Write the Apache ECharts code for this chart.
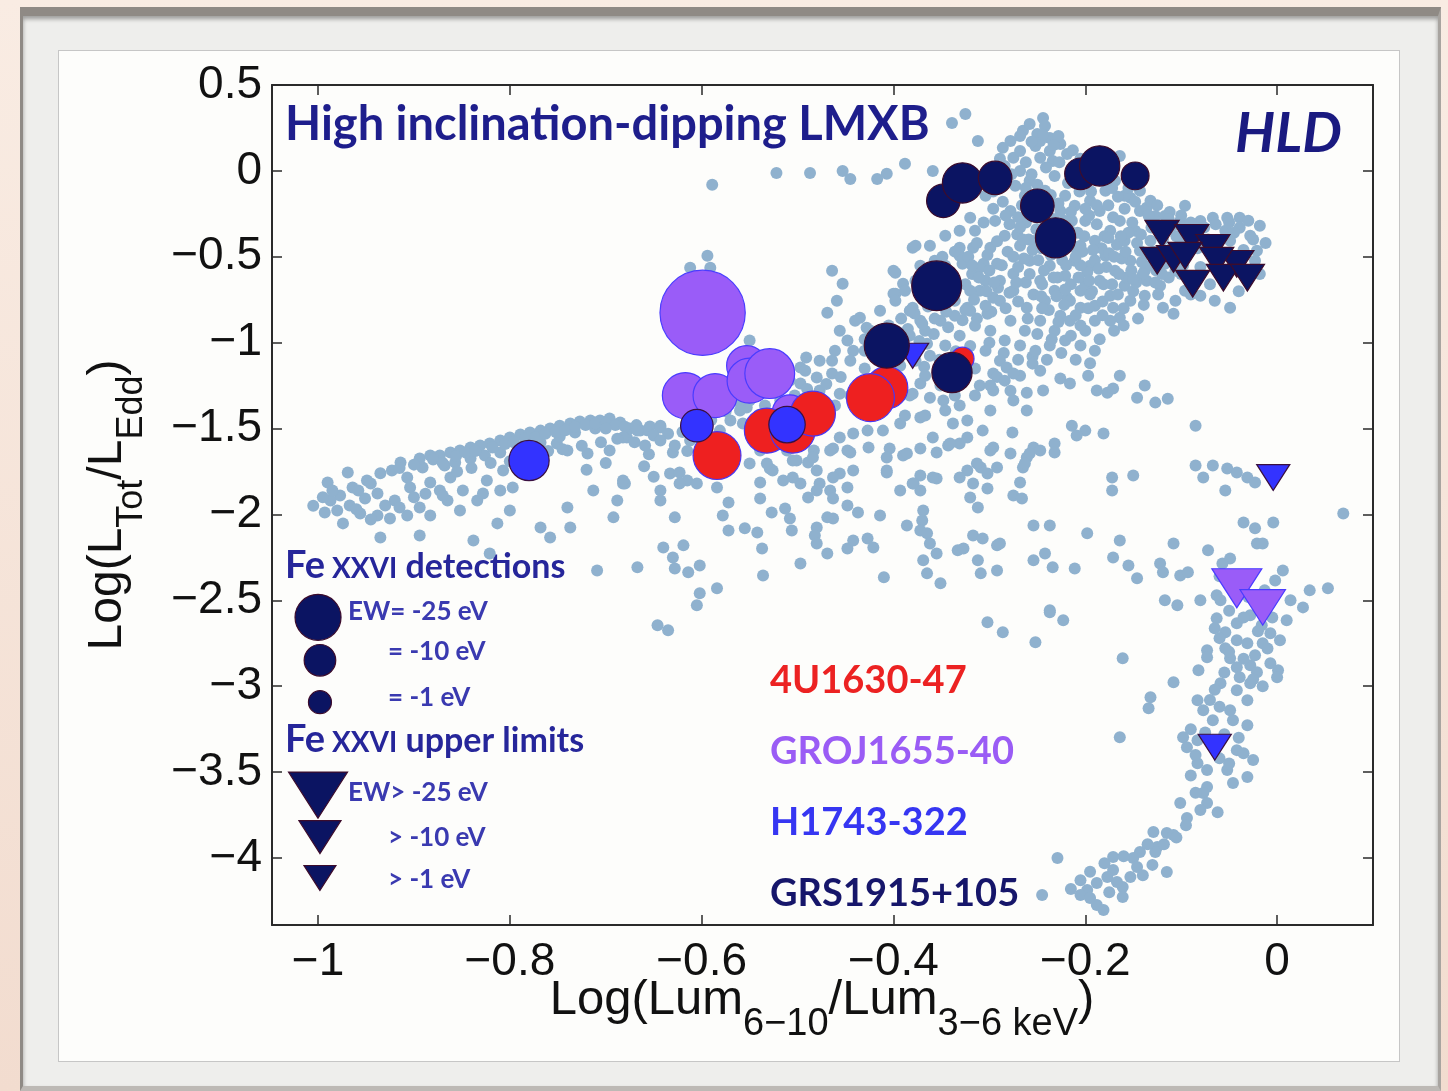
<!DOCTYPE html>
<html><head><meta charset="utf-8">
<script src="https://cdn.jsdelivr.net/npm/echarts@6/dist/echarts.min.js"></script>
<style>
html,body{margin:0;padding:0;width:1448px;height:1091px;overflow:hidden;background:linear-gradient(180deg,#f9ece3,#f2dccf);}
#frame{position:absolute;left:20px;top:7px;width:1421px;height:1084px;box-sizing:border-box;background:#eeeeec;border-top:9px solid #8f8a85;border-left:3px solid #8f8a85;border-right:3px solid #a8a4a0;border-bottom:5px solid #bdb9b5;box-shadow:inset 0 3px 4px rgba(0,0,0,0.35);}
#panel{position:absolute;left:58px;top:50px;width:1342px;height:1012px;box-sizing:border-box;background:#fdfdfb;border:1px solid #c6c6c6;}
#chart{position:absolute;left:0;top:0;width:1448px;height:1091px;}
</style></head><body>
<div id="frame"></div><div id="panel"></div><div id="chart"></div>
<script>
// ---------------- DATA ----------------
const xTicks = [-1, -0.8, -0.6, -0.4, -0.2, 0];
const yTicks = [0.5, 0, -0.5, -1, -1.5, -2, -2.5, -3, -3.5, -4];

// RXTE monitoring points (light blue background cloud) [x, y]
const cloudLeft = [[-0.990,-1.814],[-0.969,-1.756],[-0.964,-1.843],[-0.949,-1.802],[-0.938,-1.878],[-0.980,-1.977],[-0.974,-2.052],[-0.956,-1.994],[-0.938,-2.006],[-0.925,-2.023],[-0.907,-2.006],[-0.894,-1.959],[-0.883,-2.006],[-0.935,-2.134],[-0.894,-2.122],[-0.907,-1.785],[-0.891,-1.727],[-0.904,-1.843],[-0.862,-1.785],[-0.849,-1.860],[-0.865,-1.919],[-0.852,-1.977],[-0.834,-1.919],[-0.824,-1.802],[-0.828,-1.878],[-0.807,-1.744],[-0.797,-1.843],[-0.800,-1.977],[-0.813,-2.052],[-0.838,-2.151],[-0.821,-2.227],[-0.768,-2.076],[-0.758,-2.134],[-0.740,-1.959],[-0.737,-2.076],[-0.713,-1.860],[-0.688,-1.919],[-0.692,-2.017],[-0.682,-1.820],[-0.643,-1.860],[-0.643,-1.919],[-0.640,-2.192],[-0.667,-2.308],[-0.709,-2.326],[-0.740,-1.628],[-0.719,-1.645],[-0.751,-1.587],[-0.678,-1.552],
[-0.873,-1.657],[-0.862,-1.640],[-0.852,-1.628],[-0.841,-1.610],[-0.831,-1.599],[-0.821,-1.587],[-0.810,-1.570],[-0.800,-1.552],[-0.789,-1.535],[-0.779,-1.523],[-0.768,-1.512],[-0.758,-1.500],[-0.748,-1.483],[-0.737,-1.471],[-0.727,-1.459],[-0.716,-1.453],[-0.706,-1.453],[-0.696,-1.442],[-0.685,-1.465],[-0.675,-1.500],[-0.664,-1.512],[-0.654,-1.488],[-0.643,-1.483],[-0.868,-1.715],[-0.857,-1.698],[-0.841,-1.674],[-0.826,-1.657],[-0.810,-1.640],[-0.789,-1.605],[-0.768,-1.581],[-0.748,-1.547],[-0.732,-1.523],[-0.711,-1.500],[-0.914,-1.698],[-0.894,-1.674],[-0.883,-1.657],[-0.923,-1.744],[-0.977,-1.890],[-0.987,-1.919],[-0.993,-1.988],[-0.967,-1.948],[-0.951,-1.907],[-0.920,-1.919],[-0.930,-1.948],[-0.873,-1.860],[-0.883,-1.814],[-0.810,-1.860],
[-0.880,-1.68],[-0.870,-1.70],[-0.856,-1.66],[-0.846,-1.64],[-0.836,-1.63],[-0.818,-1.61],[-0.805,-1.59],[-0.796,-1.58],[-0.784,-1.56],[-0.773,-1.55],[-0.763,-1.53],[-0.752,-1.52],[-0.742,-1.51],[-0.732,-1.49],[-0.721,-1.48],[-0.711,-1.47],[-0.700,-1.47],[-0.690,-1.48],[-0.680,-1.49],[-0.668,-1.48],[-0.657,-1.51],[-0.900,-1.71],[-0.915,-1.73],[-0.935,-1.76],[-0.945,-1.82],[-0.958,-1.86],[-0.985,-1.86],[-0.995,-1.90],[-1.005,-1.95],[-0.960,-1.97],[-0.945,-2.03],[-0.915,-1.96],[-0.900,-1.90],[-0.888,-1.88],[-0.870,-1.89],[-0.855,-1.75],[-0.840,-1.73],[-0.820,-1.70],[-0.800,-1.69],[-0.780,-1.65],[-0.760,-1.63],[-0.745,-1.62],[-0.725,-1.60],[-0.705,-1.58],[-0.700,-1.70],[-0.720,-1.74],[-0.660,-1.72],[-0.650,-1.78]];

const cloudMid = [[-0.680,-1.820],[-0.633,-1.762],[-0.623,-1.756],[-0.615,-1.802],[-0.628,-2.017],[-0.619,-2.180],[-0.630,-2.250],[-0.628,-2.314],[-0.614,-2.337],[-0.602,-2.297],[-0.602,-2.459],[-0.584,-2.430],[-0.605,-2.529],[-0.646,-2.645],[-0.635,-2.674],[-0.584,-1.843],[-0.572,-1.930],[-0.578,-2.006],[-0.572,-2.093],[-0.555,-2.081],[-0.542,-2.105],[-0.537,-2.198],[-0.536,-2.355],[-0.539,-1.814],[-0.539,-1.907],[-0.529,-1.733],[-0.527,-1.988],[-0.515,-1.802],[-0.513,-1.965],[-0.508,-2.023],[-0.506,-2.093],[-0.505,-1.686],[-0.489,-1.698],[-0.497,-1.820],[-0.489,-1.901],[-0.477,-1.820],[-0.480,-1.860],[-0.466,-1.860],[-0.463,-1.907],[-0.448,-1.948],[-0.437,-1.988],[-0.456,-1.762],[-0.448,-1.843],[-0.463,-2.023],[-0.469,-2.017],[-0.480,-2.076],[-0.482,-2.122],[-0.480,-2.169],[-0.469,-2.227],[-0.497,-2.285],[-0.448,-2.198],[-0.442,-2.151],[-0.427,-2.140],[-0.421,-2.192],[-0.414,-2.006],[-0.410,-2.366],[-0.407,-1.756],[-0.483,-1.628],[-0.463,-1.616],[-0.445,-1.640],[-0.426,-1.610],[-0.404,-1.616],[-0.390,-1.657],[-0.372,-1.616],[-0.372,-1.773],[-0.379,-1.820],[-0.372,-1.860],[-0.355,-1.791],[-0.355,-1.640],[-0.343,-1.599],[-0.331,-1.587],[-0.369,-1.977],[-0.370,-2.035],[-0.386,-2.064],[-0.372,-2.093],[-0.365,-2.110],[-0.362,-2.169],[-0.355,-2.227],[-0.369,-2.267],[-0.365,-2.343],[-0.351,-2.401],[-0.333,-2.209],[-0.327,-2.198],[-0.317,-2.122],[-0.307,-2.140],[-0.292,-2.180],[-0.312,-2.267],[-0.309,-2.343],[-0.292,-2.326],[-0.323,-1.744],[-0.309,-1.727],[-0.302,-1.762],[-0.317,-1.820],[-0.302,-1.849],[-0.320,-1.901],[-0.312,-1.959],[-0.278,-1.645],[-0.261,-1.669],[-0.265,-1.727],[-0.268,-1.814],[-0.275,-1.890],[-0.266,-1.907],[-0.254,-2.064],[-0.254,-2.267],[-0.302,-2.628],[-0.286,-2.686],[-0.252,-2.744],[-0.254,-1.610],[-0.296,-1.610],
[-0.594,-0.494],[-0.612,-0.564],[-0.591,-0.564],[-0.464,-0.581],[-0.453,-0.657],[-0.459,-0.756],[-0.469,-0.826],[-0.400,-0.581],[-0.390,-0.657],[-0.400,-0.715],[-0.435,-0.855],[-0.428,-0.913],[-0.448,-0.988],[-0.442,-1.047],[-0.464,-1.105],[-0.491,-1.087],[-0.497,-1.145],[-0.511,-1.221],[-0.497,-1.238],[-0.480,-1.203],[-0.464,-1.180],[-0.477,-1.279],[-0.456,-1.297],[-0.550,-0.988],[-0.553,-1.047],[-0.380,-0.797],[-0.372,-0.872],[-0.365,-1.006],[-0.372,-1.238],[-0.380,-1.297],[-0.362,-1.320],[-0.296,-1.180],[-0.296,-1.279],[-0.299,-1.395],[-0.323,-1.453],[-0.338,-1.471],[-0.348,-1.337],[-0.372,-1.436],[-0.393,-1.471],[-0.411,-1.512],[-0.427,-1.512],[-0.442,-1.529],[-0.456,-1.552],[-0.466,-1.628],[-0.448,-1.628],[-0.484,-1.669],[-0.501,-1.686],[-0.511,-1.628],[-0.539,-1.628],[-0.550,-1.703],[-0.526,-1.744],[-0.505,-1.785],[-0.480,-1.744],[-0.463,-1.785],[-0.442,-1.744],[-0.407,-1.669],[-0.386,-1.645],[-0.407,-1.744],[-0.359,-1.552],[-0.341,-1.587],[-0.323,-1.552],[-0.307,-1.512],[-0.299,-1.628],[-0.292,-1.727],[-0.313,-1.703],[-0.331,-1.785],[-0.359,-1.785],[-0.380,-1.820],[-0.393,-1.860],[-0.682,-1.802],[-0.623,-1.820],[-0.605,-1.820],[-0.696,-1.628],[-0.682,-1.552],[-0.667,-1.512],[-0.643,-1.494],[-0.553,-1.378],[-0.557,-1.471],[-0.532,-1.703],
[-0.430,-0.98],[-0.418,-0.95],[-0.405,-0.90],[-0.392,-0.86],[-0.378,-0.83],[-0.364,-0.79],[-0.350,-0.76],[-0.337,-0.72],[-0.325,-0.66],[-0.318,-0.60],[-0.306,-0.54],[-0.420,-1.06],[-0.405,-1.08],[-0.390,-1.02],[-0.373,-0.99],[-0.358,-0.95],[-0.343,-0.91],[-0.328,-0.87],[-0.313,-0.86],[-0.298,-0.82],[-0.300,-1.00],[-0.285,-1.06],[-0.270,-1.10],[-0.255,-1.08],[-0.240,-1.10],[-0.225,-1.06],[-0.210,-1.10],[-0.195,-1.12],[-0.320,-1.02],[-0.335,-1.05],[-0.352,-1.10],[-0.368,-1.14],[-0.315,-1.15],[-0.330,-1.21],[-0.310,-1.25],[-0.292,-1.20],[-0.278,-1.28],[-0.430,-1.15],[-0.455,-1.20],[-0.470,-1.24],[-0.490,-1.27],[-0.505,-1.35],[-0.520,-1.40],[-0.540,-1.42],[-0.545,-1.31],[-0.560,-1.35],[-0.575,-1.40],[-0.590,-1.45],[-0.605,-1.50],[-0.620,-1.52],[-0.635,-1.53],[-0.650,-1.54],[-0.600,-1.60],[-0.615,-1.63],[-0.630,-1.64],[-0.655,-1.65],[-0.670,-1.58],[-0.688,-1.56],[-0.700,-1.50]];

const cloudUpper = [[-0.325,0.331],[-0.339,0.279],[-0.244,0.308],[-0.312,0.174],[-0.388,0.041],[-0.407,-0.017],[-0.359,0.000],[-0.286,0.134],[-0.265,0.233],[-0.258,0.273],[-0.250,0.215],[-0.237,0.192],[-0.226,0.157],[-0.219,0.099],[-0.164,0.087],[-0.275,0.076],[-0.268,0.000],[-0.247,0.076],[-0.234,0.058],[-0.380,-0.448],[-0.398,-0.593],[-0.398,-0.715],[-0.320,-0.273],[-0.331,-0.448],[-0.317,-0.448],[-0.299,-0.448],[-0.328,-0.541],[-0.310,-0.564],[-0.292,-0.541],[-0.275,-0.599],[-0.310,-0.698],[-0.296,-0.738],[-0.323,-0.797],[-0.302,-0.831],[-0.275,-0.698],[-0.261,-0.797],[-0.153,-0.157],[-0.143,-0.233],[-0.136,-0.215],[-0.080,-0.291],[-0.067,-0.273],[-0.052,-0.273],[-0.039,-0.273],[-0.039,-0.331],[-0.021,-0.465],[-0.049,-0.797],[-0.119,-0.797],[-0.108,-0.831],[-0.171,-0.797],[-0.164,-0.855],[-0.205,-0.797],[-0.219,-0.738],[-0.205,-0.698],
[-0.273,-0.087],[-0.263,-0.145],[-0.278,-0.233],[-0.258,-0.262],[-0.242,-0.320],[-0.226,-0.233],[-0.221,-0.145],[-0.211,-0.203],[-0.195,-0.174],[-0.185,-0.233],[-0.200,-0.291],[-0.216,-0.349],[-0.205,-0.436],[-0.190,-0.407],[-0.174,-0.349],[-0.164,-0.291],[-0.159,-0.407],[-0.179,-0.494],[-0.195,-0.552],[-0.211,-0.523],[-0.221,-0.610],[-0.237,-0.552],[-0.247,-0.640],[-0.232,-0.698],[-0.216,-0.756],[-0.200,-0.669],[-0.185,-0.640],[-0.169,-0.581],[-0.153,-0.523],[-0.143,-0.465],[-0.132,-0.407],[-0.148,-0.349],[-0.138,-0.581],[-0.159,-0.669],[-0.174,-0.727],[-0.190,-0.785],[-0.226,-0.843],[-0.242,-0.756],[-0.258,-0.523],[-0.268,-0.436],[-0.284,-0.378],[-0.294,-0.291],[-0.289,-0.640],[-0.252,-0.407],[-0.237,-0.436],[-0.169,-0.058],[-0.179,-0.116],[-0.190,-0.029],[-0.205,-0.058],[-0.159,-0.145],[-0.143,-0.116],[-0.127,-0.262],[-0.117,-0.349],[-0.258,-0.058],[-0.242,-0.116],[-0.268,0.116],[-0.252,0.145],[-0.237,0.116],[-0.284,0.029],[-0.304,-0.145],[-0.315,-0.349],[-0.331,-0.349],[-0.346,-0.378],[-0.362,-0.436],[-0.372,-0.552],[-0.357,-0.523],[-0.341,-0.610],[-0.351,-0.698],[-0.367,-0.756],[-0.383,-0.814],[-0.336,-0.756],[-0.320,-0.698],[-0.304,-0.640],[-0.289,-0.756],[-0.278,-0.872],[-0.263,-0.930],[-0.247,-0.872],[-0.232,-0.930],[-0.216,-0.872],[-0.200,-0.930],[-0.190,-0.872],[-0.174,-0.872],[-0.153,-0.756],[-0.138,-0.727],[-0.122,-0.669],[-0.106,-0.756],[-0.096,-0.698],[-0.080,-0.727],[-0.065,-0.756],[-0.122,-0.523],[-0.106,-0.581],[-0.117,-0.465],[-0.101,-0.291],[-0.086,-0.349],[-0.049,-0.407],[-0.028,-0.378],[-0.018,-0.320],[-0.132,-0.174],[-0.117,-0.262],[-0.096,-0.203],[-0.054,-0.349],[-0.023,-0.523],
[-0.456,-0.930],[-0.440,-0.872],[-0.424,-0.930],[-0.414,-0.814],[-0.398,-0.756],[-0.388,-0.698],[-0.377,-0.640],[-0.362,-0.610],[-0.346,-0.552],[-0.331,-0.494],[-0.445,-1.105],[-0.430,-1.047],[-0.414,-1.017],[-0.398,-0.988],[-0.383,-0.959],[-0.367,-0.930],[-0.351,-0.872],[-0.336,-0.843],[-0.320,-0.814],[-0.304,-0.785],[-0.393,-1.134],[-0.377,-1.105],[-0.362,-1.076],[-0.346,-1.017],[-0.331,-0.959],[-0.315,-0.901],[-0.299,-0.930],[-0.284,-0.988],[-0.268,-1.017],[-0.252,-1.047],[-0.237,-1.017],[-0.221,-0.988],[-0.205,-1.017],[-0.190,-1.047],[-0.289,-1.105],[-0.304,-1.047],[-0.367,-1.192],[-0.351,-1.250],[-0.336,-1.308],[-0.383,-1.308],[-0.398,-1.337],[-0.414,-1.395],[-0.388,-1.424],[-0.367,-1.424],[-0.346,-1.395],[-0.331,-1.366],[-0.315,-1.308],[-0.299,-1.250],[-0.284,-1.221],[-0.268,-1.192],[-0.247,-1.163],[-0.445,-1.308],[-0.461,-1.366],[-0.477,-1.337],[-0.487,-1.395],[-0.503,-1.308],[-0.518,-1.337],[-0.534,-1.366],[-0.550,-1.337],[-0.560,-1.395],[-0.570,-1.453],[-0.581,-1.512],[-0.596,-1.541],[-0.612,-1.570],[-0.628,-1.599],[-0.643,-1.570],[-0.659,-1.599],[-0.523,-1.279],[-0.508,-1.221],[-0.492,-1.163],[-0.477,-1.105],[-0.461,-1.047],
[-0.589,-0.081],[-0.522,-0.012],[-0.487,-0.012],[-0.453,0.000],[-0.445,-0.047],[-0.417,-0.047],[-0.377,-0.436],[-0.268,0.203],[-0.242,0.262],[-0.228,0.203],[-0.247,0.174],[-0.278,0.174],
[-0.296,-0.12],[-0.286,-0.18],[-0.279,-0.31],[-0.271,-0.37],[-0.262,-0.30],[-0.255,-0.46],[-0.249,-0.52],[-0.243,-0.58],[-0.236,-0.49],[-0.229,-0.62],[-0.224,-0.52],[-0.219,-0.42],[-0.214,-0.29],[-0.208,-0.36],[-0.203,-0.47],[-0.198,-0.59],[-0.193,-0.70],[-0.188,-0.31],[-0.183,-0.45],[-0.178,-0.56],[-0.172,-0.66],[-0.167,-0.43],[-0.162,-0.51],[-0.157,-0.62],[-0.151,-0.30],[-0.146,-0.42],[-0.141,-0.53],[-0.136,-0.64],[-0.131,-0.33],[-0.126,-0.58],[-0.194,-0.12],[-0.176,-0.20],[-0.171,-0.27],[-0.159,-0.22],[-0.148,-0.18],[-0.196,-0.26],[-0.206,-0.12],[-0.218,-0.07],[-0.232,-0.03],[-0.227,0.05],[-0.241,0.02],[-0.256,-0.02],[-0.262,0.05],[-0.277,-0.02],[-0.289,0.07],[-0.256,0.17],[-0.244,0.21],[-0.233,0.15],[-0.213,0.12],[-0.205,0.07],[-0.266,-0.20],[-0.283,-0.26],[-0.292,-0.41],[-0.281,-0.47],[-0.270,-0.56],[-0.262,-0.65],[-0.254,-0.72],[-0.238,-0.81],[-0.222,-0.78],[-0.210,-0.84],[-0.197,-0.80],[-0.182,-0.76],[-0.166,-0.72],[-0.150,-0.70],[-0.139,-0.78],[-0.124,-0.72],[-0.113,-0.62],[-0.117,-0.54],[-0.129,-0.47],[-0.119,-0.40],[-0.109,-0.32],[-0.134,-0.26],[-0.302,-0.49],[-0.311,-0.62],[-0.300,-0.58],[-0.291,-0.68],[-0.283,-0.80],[-0.270,-0.76],[-0.250,-0.95],[-0.235,-0.98],[-0.215,-0.96],[-0.185,-0.98],[-0.170,-0.93],[-0.160,-0.80],[-0.145,-0.86],[-0.180,-0.38],[-0.155,-0.36],[-0.140,-0.60],[-0.205,-0.55],[-0.215,-0.66],[-0.230,-0.73],[-0.245,-0.66],[-0.265,-0.40],[-0.275,-0.50],[-0.240,-0.26],[-0.228,-0.19],[-0.215,-0.24],[-0.190,-0.52],[-0.175,-0.48],[-0.165,-0.60],
[-0.125,-0.20],[-0.112,-0.24],[-0.100,-0.26],[-0.090,-0.30],[-0.076,-0.33],[-0.064,-0.31],[-0.050,-0.30],[-0.030,-0.29],[-0.025,-0.40],[-0.035,-0.46],[-0.012,-0.42],[-0.045,-0.36],[-0.072,-0.40],[-0.100,-0.42],[-0.110,-0.45],[-0.080,-0.56],[-0.100,-0.60],[-0.070,-0.66],[-0.120,-0.60],[-0.090,-0.72],[-0.040,-0.70],[-0.018,-0.60],
[-0.268,-0.33],[-0.259,-0.40],[-0.251,-0.34],[-0.246,-0.45],[-0.239,-0.37],[-0.233,-0.28],[-0.226,-0.45],[-0.220,-0.55],[-0.212,-0.44],[-0.207,-0.62],[-0.201,-0.38],[-0.192,-0.46],[-0.186,-0.57],[-0.181,-0.66],[-0.176,-0.39],[-0.170,-0.50],[-0.163,-0.38],[-0.158,-0.47],[-0.152,-0.58],[-0.147,-0.65],[-0.142,-0.37],[-0.137,-0.48],[-0.131,-0.55],[-0.127,-0.65],[-0.221,-0.69],[-0.233,-0.62],[-0.246,-0.73],[-0.258,-0.60],[-0.264,-0.51],[-0.272,-0.65],[-0.279,-0.71],[-0.287,-0.55],[-0.295,-0.65],[-0.303,-0.70],[-0.316,-0.75],[-0.325,-0.81],[-0.336,-0.67],[-0.345,-0.82],[-0.357,-0.86],[-0.370,-0.89],[-0.385,-0.92],[-0.395,-0.94],[-0.410,-0.98],[-0.260,-0.86],[-0.245,-0.80],[-0.228,-0.88],[-0.205,-0.90],[-0.195,-0.72],[-0.182,-0.84],[-0.160,-0.90],[-0.150,-0.63],[-0.196,-0.64],[-0.210,-0.50],[-0.188,-0.20],[-0.200,-0.22],[-0.222,-0.29],[-0.248,-0.24],[-0.270,-0.27],[-0.262,-0.10],[-0.250,-0.08],[-0.236,-0.14],[-0.286,-0.06],[-0.296,-0.22],[-0.306,-0.30],[-0.313,-0.42],[-0.322,-0.50],[-0.336,-0.47],[-0.349,-0.50],[-0.318,-0.55],[-0.166,-0.15],[-0.172,-0.10],[-0.155,-0.10],[-0.113,-0.28],[-0.105,-0.38],[-0.112,-0.52],[-0.098,-0.55],[-0.083,-0.45]];

const cloudRight = [[-0.282,-1.145],[-0.275,-1.180],[-0.255,-1.122],[-0.226,-1.209],[-0.216,-1.238],[-0.197,-1.192],[-0.188,-1.279],[-0.177,-1.291],[-0.171,-1.267],[-0.146,-1.320],[-0.127,-1.349],[-0.114,-1.326],[-0.261,-1.291],[-0.244,-1.279],[-0.275,-1.337],[-0.261,-1.395],[-0.085,-1.483],[-0.214,-1.483],[-0.200,-1.512],[-0.209,-1.541],[-0.181,-1.529],[-0.276,-1.523],[-0.258,-1.645],[-0.247,-1.628],[-0.232,-1.587],[-0.232,-1.640],[-0.263,-1.703],[-0.172,-1.785],[-0.172,-1.860],[-0.150,-1.773],[-0.085,-1.715],[-0.067,-1.715],[-0.077,-1.785],[-0.052,-1.733],[-0.042,-1.756],[-0.031,-1.785],[-0.023,-1.814],[-0.054,-1.860],[0.069,-1.994],[-0.035,-2.047],[-0.023,-2.081],[-0.004,-2.047],[-0.021,-2.169],[-0.015,-2.169],[-0.108,-2.169],[-0.072,-2.209],[-0.049,-2.256],[-0.057,-2.285],[0.006,-2.326],[0.034,-2.442],[0.053,-2.430],[0.027,-2.541],[-0.237,-2.064],[-0.198,-2.110],[-0.164,-2.151],[-0.242,-2.227],[-0.234,-2.308],[-0.211,-2.314],[-0.171,-2.250],[-0.155,-2.297],[-0.146,-2.372],[-0.122,-2.285],[-0.119,-2.337],[-0.101,-2.355],[-0.093,-2.337],[-0.117,-2.500],[-0.104,-2.529],[-0.080,-2.500],[-0.063,-2.471],[-0.237,-2.558],[-0.289,-2.169],[-0.164,-1.192],[-0.138,-1.250],
[-0.237,-2.570],[-0.223,-2.616],[-0.161,-2.837],[-0.132,-3.064],[-0.134,-3.128],[-0.164,-3.297],[-0.108,-2.977],[-0.082,-2.907],[-0.073,-2.791],[-0.073,-2.831],[-0.059,-2.983],[-0.054,-2.779],[-0.049,-2.837],[-0.063,-2.605],[-0.042,-2.634],[-0.042,-2.733],[-0.031,-2.750],[-0.042,-2.890],[-0.039,-2.948],[-0.028,-2.878],[-0.021,-2.919],[-0.007,-2.866],[0.001,-2.907],[0.000,-2.948],[-0.015,-2.750],[-0.007,-2.692],[0.010,-2.616],[-0.042,-3.023],[-0.031,-3.081],[-0.028,-2.983],[-0.083,-3.081],[-0.077,-3.140],[-0.067,-3.198],[-0.049,-3.140],[-0.046,-3.198],[-0.031,-3.227],[-0.098,-3.297],[-0.094,-3.355],[-0.083,-3.314],[-0.063,-3.331],[-0.042,-3.372],[-0.035,-3.390],[-0.025,-3.430],[-0.083,-3.448],[-0.073,-3.488],[-0.052,-3.488],[-0.046,-3.564],[-0.031,-3.529],[-0.073,-3.587],[-0.077,-3.622],[-0.073,-3.680],[-0.062,-3.733],[-0.101,-3.680],[-0.094,-3.767],[-0.129,-3.849],[-0.115,-3.855],[-0.108,-3.866],[-0.125,-3.936],[-0.127,-3.965],[-0.143,-3.965],[-0.150,-4.000],[-0.171,-3.994],[-0.146,-4.052],[-0.171,-4.070],[-0.115,-4.081],[-0.229,-4.000],[-0.177,-4.110],[-0.188,-4.145],[-0.198,-4.186],[-0.205,-4.215],[-0.161,-4.169],[-0.161,-4.227],[-0.245,-4.215],[-0.181,-4.302],[-0.153,-4.110],[-0.167,-4.140],[-0.188,-4.273],[-0.195,-4.233],
[-0.065,-2.663],[-0.054,-2.686],[-0.023,-2.820],[-0.016,-2.645],[-0.028,-2.587],[0.003,-2.733],[0.014,-2.500],[-0.002,-2.384],[-0.013,-2.442],[-0.059,-2.500],
[-0.060,-2.36],[-0.045,-2.40],[-0.030,-2.48],[-0.018,-2.55],[-0.005,-2.60],[-0.050,-2.56],[-0.035,-2.60],[-0.020,-2.68],[-0.010,-2.78],[-0.060,-2.72],[-0.050,-2.80],[-0.035,-2.84],[-0.025,-2.96],[-0.015,-3.00],[-0.055,-2.92],[-0.065,-3.02],[-0.070,-3.08],[-0.060,-3.12],[-0.090,-3.25],[-0.075,-3.27],[-0.055,-3.28],[-0.040,-3.30],[-0.085,-3.40],[-0.060,-3.42],[-0.050,-3.45],[-0.090,-3.52],[-0.085,-3.62],[-0.080,-3.72],[-0.095,-3.81],[-0.105,-3.88],[-0.118,-3.92],[-0.135,-3.92],[-0.160,-3.99],[-0.180,-4.03],[-0.195,-4.08],[-0.205,-4.13],[-0.215,-4.18],[-0.175,-4.20],[-0.140,-4.10],[-0.130,-4.04]];

// Fe XXVI detections (circles) [x, y, |EW| eV]
const grsDet = [[-0.348,-0.174,12],[-0.328,-0.070,19],[-0.294,-0.041,12],[-0.250,-0.203,12],[-0.231,-0.390,19],[-0.205,-0.017,10],[-0.185,0.029,19],[-0.148,-0.029,6],[-0.355,-0.669,29],[-0.407,-1.017,24],[-0.339,-1.174,19]];
const groDet = [[-0.599,-0.826,66],[-0.617,-1.308,25],[-0.586,-1.308,23],[-0.553,-1.134,19],[-0.550,-1.221,24],[-0.529,-1.180,29],[-0.508,-1.407,14]];
const u16Det = [[-0.584,-1.657,27],[-0.532,-1.512,24],[-0.505,-1.512,24],[-0.484,-1.413,24],[-0.407,-1.262,21],[-0.424,-1.320,27],[-0.328,-1.093,1]];
const h17Det = [[-0.780,-1.686,19],[-0.605,-1.483,11],[-0.511,-1.477,15]];
// Fe XXVI upper limits (down triangles) [x, y, |EW| eV]
const grsUL = [[-0.120,-0.366,3],[-0.089,-0.390,3],[-0.067,-0.448,3],[-0.125,-0.523,3],[-0.108,-0.512,3],[-0.096,-0.494,3],[-0.042,-0.541,3],[-0.063,-0.523,3],[-0.056,-0.622,3],[-0.031,-0.622,3],[-0.088,-0.657,3]];
const groUL = [[-0.042,-2.430,17],[-0.015,-2.541,13]];
const h17UL = [[-0.380,-1.076,1],[-0.004,-1.785,2],[-0.065,-3.355,2]];
// in-plot key symbols [x, y, |EW| eV]
const keyDet = [[-1.000,-2.599,25],[-0.998,-2.849,10],[-0.998,-3.093,1]];
const keyUL = [[-1.000,-3.634,25],[-0.998,-3.878,10],[-0.998,-4.116,1]];

const sourceNames = ['4U1630-47', 'GROJ1655-40', 'H1743-322', 'GRS1915+105'];
const sourceColors = ['#ec2222', '#9a5cf5', '#3636f2', '#16166a'];

// ---------------- RENDER ----------------
const FONT = '"Liberation Sans", Arial, Helvetica, sans-serif';
const LFONT = 'Lato, "Open Sans", sans-serif';
const ctx2 = document.createElement('canvas').getContext('2d');
function tw(t, f) { ctx2.font = f; return ctx2.measureText(t).width; }
function compose(pieces, family, fill) {
  let cx = 0; const kids = [];
  for (const p of pieces) {
    const f = (p.st || 'normal') + ' ' + (p.w || 'normal') + ' ' + p.s + 'px ' + family;
    kids.push({ type: 'text', x: cx, y: p.dy || 0, silent: true,
      style: { text: p.t, font: f, fill: p.fill || fill, textAlign: 'left', textVerticalAlign: 'middle' } });
    cx += tw(p.t, f);
  }
  return { kids, width: cx };
}
function circleSize(v) { return 23 + 0.958 * (v[2] - 1); }
function triSize(v) { const w = 32 + 1.125 * (v[2] - 1); return [w, w * 0.78]; }

const chart = echarts.init(document.getElementById('chart'), null, { renderer: 'canvas' });
const axisCommon = {
  type: 'value', splitLine: { show: false },
  axisLine: { show: true, onZero: false, lineStyle: { color: '#2a2a2a', width: 2 } }
};
const xAxisBase = Object.assign({}, axisCommon, { min: -1.048, max: 0.1 });
const yAxisBase = Object.assign({}, axisCommon, { min: -4.39, max: 0.5 });
function fmt(v) { return v < 0 ? '\u2212' + String(Math.abs(v)) : String(v); }

const graphics = [];
{
  const c = compose([{ t: 'Log(Lum', s: 49 }, { t: '6\u221210', s: 38, dy: 25 }, { t: '/Lum', s: 49 }, { t: '3\u22126 keV', s: 38, dy: 25 }, { t: ')', s: 49 }], FONT, '#111');
  graphics.push({ type: 'group', x: 822 - c.width / 2, y: 1000, children: c.kids });
}
{
  const c = compose([{ t: 'Log(L', s: 48 }, { t: 'Tot', s: 36, dy: 24 }, { t: '/L', s: 48 }, { t: 'Edd', s: 36, dy: 24 }, { t: ')', s: 48 }], FONT, '#111');
  graphics.push({ type: 'group', x: 108, y: 505 + c.width / 2, rotation: Math.PI / 2, children: c.kids });
}
function plainText(t, x, y, size, fill, extra) {
  graphics.push({ type: 'text', x, y, silent: true,
    style: { text: t, font: (extra && extra.font) || ('bold ' + size + 'px ' + LFONT), fill, textAlign: 'left', textVerticalAlign: 'middle' } });
}
plainText('High inclination-dipping LMXB', 285, 125, 47, '#1e1e8c');
plainText('HLD', 1235, 134, 56, '#1a1a80', { font: 'italic bold 56px ' + LFONT });
function header(parts, x, base) {
  const pcs = parts.map(p => ({ t: p[0], s: p[1], w: 'bold', dy: -0.387 * p[1] }));
  const c = compose(pcs, LFONT, '#26269a');
  graphics.push({ type: 'group', x, y: base, children: c.kids });
}
header([['Fe', 38], [' XXVI', 28], [' detections', 34]], 285, 580);
header([['Fe', 38], [' XXVI', 28], [' upper limits', 34]], 285, 754);
const keyCol = '#3a3ab0';
plainText('EW= -25 eV', 348, 612, 26, keyCol);
plainText('= -10 eV', 388, 652, 26, keyCol);
plainText('= -1 eV', 388, 698, 26, keyCol);
plainText('EW> -25 eV', 348, 793, 26, keyCol);
plainText('> -10 eV', 388, 838, 26, keyCol);
plainText('> -1 eV', 388, 880, 26, keyCol);
const nameY = [681, 752, 823, 894];
sourceNames.forEach((n, i) => plainText(n, 770, nameY[i], 38, sourceColors[i]));

function det(data, color, border, z) {
  return { type: 'scatter', data, symbol: 'circle', symbolSize: circleSize, z, silent: true,
    itemStyle: { color, borderColor: border, borderWidth: 1.2, opacity: 1 } };
}
function ul(data, color, border, z) {
  return { type: 'scatter', data, symbol: 'triangle', symbolRotate: 180, symbolSize: triSize, z, silent: true,
    itemStyle: { color, borderColor: border, borderWidth: 1.2, opacity: 1 } };
}
const cloud = cloudLeft.concat(cloudMid, cloudUpper, cloudRight);

chart.setOption({
  animation: false,
  backgroundColor: 'transparent',
  grid: { left: 272, top: 85, width: 1101, height: 840, containLabel: false },
  xAxis: [
    Object.assign({}, xAxisBase, { position: 'bottom',
      axisTick: { show: true, inside: true, length: 10, customValues: xTicks, lineStyle: { color: '#2a2a2a', width: 1.5 } },
      axisLabel: { show: true, customValues: xTicks, formatter: fmt, margin: 14, fontSize: 46, fontFamily: FONT, color: '#111' } }),
    Object.assign({}, xAxisBase, { position: 'top',
      axisTick: { show: true, inside: true, length: 10, customValues: xTicks, lineStyle: { color: '#2a2a2a', width: 1.5 } },
      axisLabel: { show: false } })
  ],
  yAxis: [
    Object.assign({}, yAxisBase, { position: 'left',
      axisTick: { show: true, inside: true, length: 10, customValues: yTicks, lineStyle: { color: '#2a2a2a', width: 1.5 } },
      axisLabel: { show: true, customValues: yTicks, formatter: fmt, margin: 10, fontSize: 46, fontFamily: FONT, color: '#111' } }),
    Object.assign({}, yAxisBase, { position: 'right',
      axisTick: { show: true, inside: true, length: 10, customValues: yTicks, lineStyle: { color: '#2a2a2a', width: 1.5 } },
      axisLabel: { show: false } })
  ],
  series: [
    { type: 'scatter', data: cloud, symbol: 'circle', symbolSize: 12, z: 2, silent: true,
      itemStyle: { color: '#8fb1ce', opacity: 1 } },
    det(groDet, '#9a5cf8', '#4a3cff', 3),
    ul(groUL, '#9a5cf8', '#4a3cff', 3),
    det(u16Det, '#ee2020', '#4a36f0', 4),
    det(h17Det, '#3333ff', '#3a1040', 5),
    ul(h17UL, '#3333ff', '#3a1040', 5),
    det(grsDet, '#0b1462', '#3c0c2c', 6),
    ul(grsUL, '#0b1462', '#3c0c2c', 6),
    det(keyDet, '#0b1462', '#3c0c2c', 6),
    ul(keyUL, '#0b1462', '#3c0c2c', 6)
  ],
  graphic: graphics
});
</script></body></html>
